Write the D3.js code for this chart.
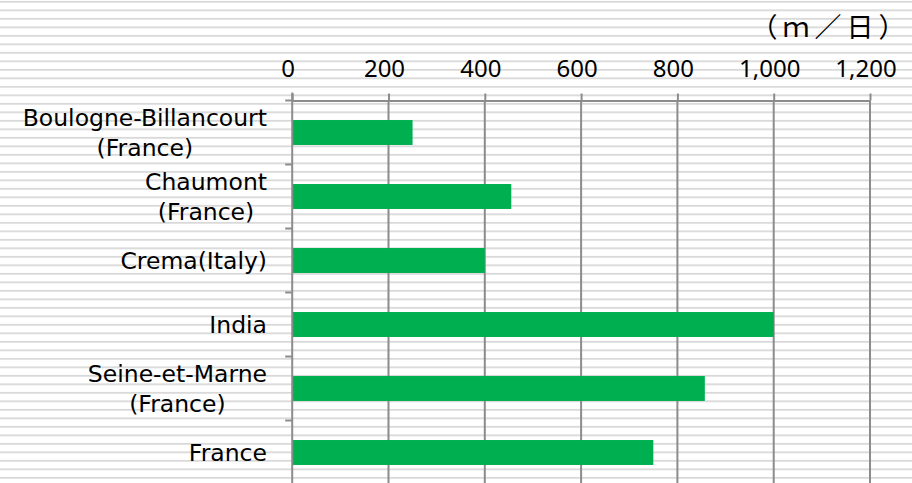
<!DOCTYPE html>
<html>
<head>
<meta charset="utf-8">
<script src="https://cdn.jsdelivr.net/npm/d3@7"></script>
<style>
  html, body { margin: 0; padding: 0; background: #fff; }
  svg { display: block; }
</style>
</head>
<body>
<svg id="chart"></svg>
<script>
const categories = [
  ['Boulogne-Billancourt', '(France)'],
  ['Chaumont', '(France)'],
  ['Crema(Italy)'],
  ['India'],
  ['Seine-et-Marne', '(France)'],
  ['France']
];
const values = [250, 455, 400, 1000, 857, 750];
const xTicks = [0, 200, 400, 600, 800, 1000, 1200];
const unitLabel = '（ｍ／日）';

const width = 912, height = 483;
const keys = categories.map(c => c.join(' '));

const svg = d3.select('#chart')
  .attr('width', width)
  .attr('height', height);

// striped background (Excel narrow horizontal pattern)
const defs = svg.append('defs');
const pat = defs.append('pattern')
  .attr('id', 'stripes')
  .attr('patternUnits', 'userSpaceOnUse')
  .attr('width', 10)
  .attr('height', 8.5)
  .attr('y', 0.9);
pat.append('rect').attr('width', 10).attr('height', 8.5).attr('fill', '#fff');
pat.append('rect').attr('width', 10).attr('height', 1.8).attr('fill', '#d9d9d9');
svg.append('rect')
  .attr('width', width).attr('height', height)
  .attr('fill', 'url(#stripes)');

const x = d3.scaleLinear()
  .domain([0, 1200])
  .range([292.2, 870]);

const y = d3.scaleBand()
  .domain(keys)
  .range([100.5, 484.5])
  .paddingInner(0.61)
  .paddingOuter(0.305);

const axisColor = '#8c8c8c';
const plotTop = y.range()[0], plotBottom = y.range()[1];

// vertical gridlines
svg.append('g')
  .selectAll('line')
  .data(xTicks.slice(1))
  .enter()
  .append('line')
  .attr('x1', d => x(d)).attr('x2', d => x(d))
  .attr('y1', plotTop).attr('y2', plotBottom)
  .attr('stroke', axisColor)
  .attr('stroke-width', 2);

// bars
svg.append('g')
  .selectAll('rect')
  .data(values)
  .enter()
  .append('rect')
  .attr('x', x(0))
  .attr('y', (d, i) => y(keys[i]))
  .attr('width', d => x(d) - x(0))
  .attr('height', y.bandwidth())
  .attr('fill', '#00b050');

// top axis
const xAxis = svg.append('g')
  .attr('transform', `translate(0,${plotTop})`)
  .call(d3.axisTop(x)
    .tickValues(xTicks)
    .tickSize(7)
    .tickSizeOuter(0)
    .tickPadding(17)
    .tickFormat(d3.format(',')));
xAxis.select('.domain').attr('stroke', axisColor).attr('stroke-width', 2);
xAxis.selectAll('.tick line').attr('stroke', axisColor).attr('stroke-width', 2);
xAxis.selectAll('.tick text')
  .attr('dx', -4.5)
  .attr('fill', '#000')
  .style('font-family', '"Noto Sans", sans-serif')
  .style('font-size', '24px');

// left axis line and category ticks at band boundaries
const gap = (y.step() - y.bandwidth()) / 2;
const bounds = keys.map(k => y(k) - gap).concat([plotBottom]);
svg.append('g')
  .selectAll('line')
  .data(bounds)
  .enter()
  .append('line')
  .attr('x1', x(0) - 7).attr('x2', x(0))
  .attr('y1', d => d).attr('y2', d => d)
  .attr('stroke', axisColor)
  .attr('stroke-width', 2);
svg.append('line')
  .attr('x1', x(0)).attr('x2', x(0))
  .attr('y1', plotTop - 8).attr('y2', plotBottom)
  .attr('stroke', axisColor)
  .attr('stroke-width', 2);

// category labels: lines centred on each other, block right-aligned
const labelRight = 267;
const lineH = 30;
const labels = svg.append('g')
  .style('font-family', '"DejaVu Sans", sans-serif')
  .style('font-size', '23.5px')
  .attr('fill', '#000');

categories.forEach((lines, i) => {
  const cy = y(keys[i]) + y.bandwidth() / 2;
  const t = labels.append('text').attr('text-anchor', 'middle');
  lines.forEach((ln, j) => {
    t.append('tspan')
      .attr('y', cy + (j - (lines.length - 1) / 2) * lineH + 8.5)
      .text(ln);
  });
  let maxW = 0;
  t.selectAll('tspan').each(function () {
    maxW = Math.max(maxW, this.getComputedTextLength());
  });
  t.selectAll('tspan').attr('x', labelRight - maxW / 2);
});

// unit label
svg.append('text')
  .attr('x', 750.5)
  .attr('y', 37)
  .attr('fill', '#000')
  .style('font-family', '"Noto Sans CJK JP", sans-serif')
  .style('font-size', '27px')
  .style('letter-spacing', '5px')
  .text(unitLabel);
</script>
</body>
</html>
